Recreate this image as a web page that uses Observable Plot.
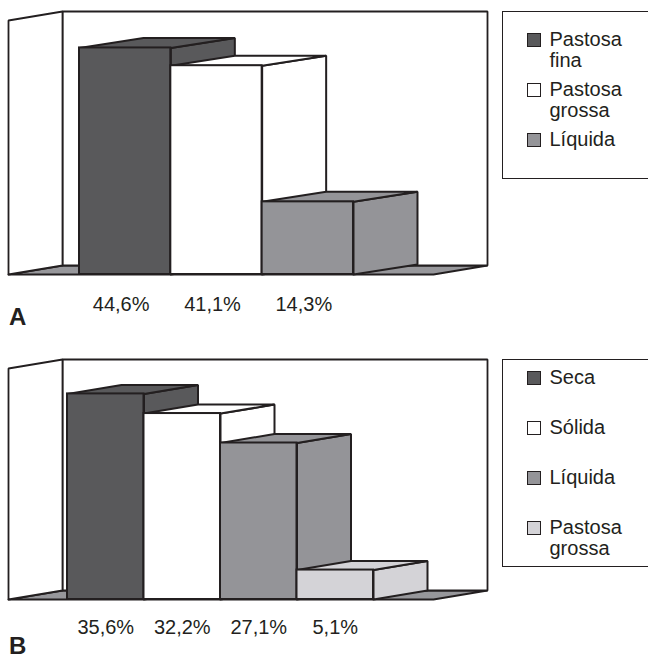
<!DOCTYPE html>
<html><head><meta charset="utf-8">
<script src="https://cdn.jsdelivr.net/npm/d3@7"></script>
<script src="https://cdn.jsdelivr.net/npm/@observablehq/plot@0.6"></script>
<style>
body{margin:0;background:#fff;overflow:hidden;font-family:"Liberation Sans",Arial,Helvetica,sans-serif;color:#231f20}
#root{position:relative;width:648px;height:658px;overflow:hidden}
.panel{position:absolute;left:0}
.legend{position:absolute;left:502px;width:170px;border:1.5px solid #231f20;box-sizing:border-box;background:#fff}
.item{position:absolute;left:46.5px;font-size:20px;line-height:21px;white-space:nowrap}
.sw{position:absolute;left:-23px;top:4px;width:14px;height:14px;border:1.5px solid #231f20;box-sizing:border-box}
.letter{position:absolute;left:9px;font-weight:bold;font-size:24px;line-height:20px}
</style>
</head><body><div id="root"></div>
<script>
// ---- data ----
const catsA = ["Pastosa fina", "Pastosa grossa", "Líquida"];
const valsA = [44.6, 41.1, 14.3];
const labelsA = ["44,6%", "41,1%", "14,3%"];
const legendA = [["Pastosa", "fina"], ["Pastosa", "grossa"], ["Líquida"]];

const catsB = ["Seca", "Sólida", "Líquida", "Pastosa grossa"];
const valsB = [35.6, 32.2, 27.1, 5.1];
const labelsB = ["35,6%", "32,2%", "27,1%", "5,1%"];
const legendB = [["Seca"], ["Sólida"], ["Líquida"], ["Pastosa", "grossa"]];

// ---- styles ----
const INK = "#231f20";
const FILLS = {
  "Pastosa fina": "#59595b", "Seca": "#59595b",
  "Pastosa grossa": "#ffffff", "Sólida": "#ffffff",
  "Líquida": "#949498"
};
const FILLS_B = Object.assign({}, FILLS, {"Pastosa grossa": "#d4d3d7"});
const FLOOR = "#97979b";
const FONT = '"Liberation Sans", Arial, Helvetica, sans-serif';

function drawPanel(cats, vals, labels, yMax, fills, L) {
  const n = cats.length;
  const xs = d3.scaleLinear([0, n], [L.barX0, L.barX0 + n * L.barW]);
  const X = p => xs.invert(p);
  const unitY = yMax / (L.floorY - L.topY);
  const fdx = L.floorDepth[0] / L.barW, fdy = -L.floorDepth[1] * unitY;
  const bdx = L.barDepth[0] / L.barW, bdy = -L.barDepth[1] * unitY;
  const left = X(L.wallX), right = X(L.floorRight);

  const frame = [], sides = [], tops = [];
  const poly = (arr, id, key, pts) => pts.concat([pts[0]]).forEach(([x, y]) => arr.push({id, key, x, y}));
  poly(frame, "floor", "floor", [[left, 0], [right, 0], [right + fdx, fdy], [left + fdx, fdy]]);
  poly(frame, "back", "wall", [[left + fdx, fdy], [right + fdx, fdy], [right + fdx, yMax + fdy], [left + fdx, yMax + fdy]]);
  poly(frame, "lwall", "wall", [[left, 0], [left + fdx, fdy], [left + fdx, yMax + fdy], [left, yMax]]);

  const rows = cats.map((c, i) => ({i, cat: c, v: vals[i], label: labels[i]}));
  rows.forEach(({i, cat, v}) => {
    poly(sides, "s" + i, cat, [[i + 1, 0], [i + 1 + bdx, bdy], [i + 1 + bdx, v + bdy], [i + 1, v]]);
    poly(tops, "t" + i, cat, [[i, v], [i + bdx, v + bdy], [i + 1 + bdx, v + bdy], [i + 1, v]]);
  });

  const keys = [...cats, "floor", "wall"];
  const colors = [...cats.map(c => fills[c]), FLOOR, "#ffffff"];
  const lineOpts = {x: "x", y: "y", z: "id", fill: "key", stroke: INK, strokeLinejoin: "miter"};

  return Plot.plot({
    width: 648, height: L.height, margin: 0,
    x: {domain: [0, n], range: [L.barX0, L.barX0 + n * L.barW], axis: null},
    y: {domain: [0, yMax], range: [L.floorY, L.topY], axis: null},
    color: {domain: keys, range: colors},
    style: {fontFamily: FONT, background: "transparent", overflow: "visible", color: INK},
    marks: [
      Plot.line(frame, {...lineOpts, strokeWidth: 1.8}),
      Plot.line(sides, {...lineOpts, strokeWidth: 2}),
      Plot.line(tops, {...lineOpts, strokeWidth: 2}),
      Plot.rect(rows, {x1: d => d.i, x2: d => d.i + 1, y1: d => 0, y2: "v", fill: "cat", stroke: INK, strokeWidth: 2, strokeLinejoin: "miter"}),
      Plot.text(rows, {x: d => d.i + 0.5, y: d => 0, text: "label", dy: L.labelDy, dx: L.labelDx, lineAnchor: "bottom", fontSize: 20, fill: INK})
    ]
  });
}

function legend(entries, cats, fills, top, height, itemTops) {
  const box = document.createElement("div");
  box.className = "legend";
  box.style.top = top + "px";
  box.style.height = height + "px";
  entries.forEach((lines, k) => {
    const it = document.createElement("div");
    it.className = "item";
    it.style.top = itemTops[k] + "px";
    it.innerHTML = lines.join("<br>");
    const sw = document.createElement("div");
    sw.className = "sw";
    sw.style.background = fills[cats[k]];
    it.appendChild(sw);
    box.appendChild(it);
  });
  return box;
}

const root = document.getElementById("root");

const pA = drawPanel(catsA, valsA, labelsA, 50, FILLS, {
  height: 330, wallX: 8, barX0: 79, barW: 91.33, floorRight: 433,
  floorY: 274, topY: 20, floorDepth: [54, -9], barDepth: [64, -10], labelDy: 36, labelDx: -4
});
pA.classList.add("panel"); pA.style.top = "0px";
root.appendChild(pA);

const pB = drawPanel(catsB, valsB, labelsB, 40, FILLS_B, {
  height: 328, wallX: 8, barX0: 67, barW: 76.5, floorRight: 433,
  floorY: 269, topY: 38, floorDepth: [54, -9], barDepth: [54, -9], labelDy: 34, labelDx: 0
});
pB.classList.add("panel"); pB.style.top = "330px";
root.appendChild(pB);

root.appendChild(legend(legendA, catsA, FILLS, 11, 168, [16.5, 66.5, 116.5]));
root.appendChild(legend(legendB, catsB, FILLS_B, 359, 208, [6.5, 56.5, 106.5, 156.5]));

const la = document.createElement("div"); la.className = "letter"; la.textContent = "A"; la.style.top = "307px"; root.appendChild(la);
const lb = document.createElement("div"); lb.className = "letter"; lb.textContent = "B"; lb.style.top = "636px"; root.appendChild(lb);
</script>
</body></html>
